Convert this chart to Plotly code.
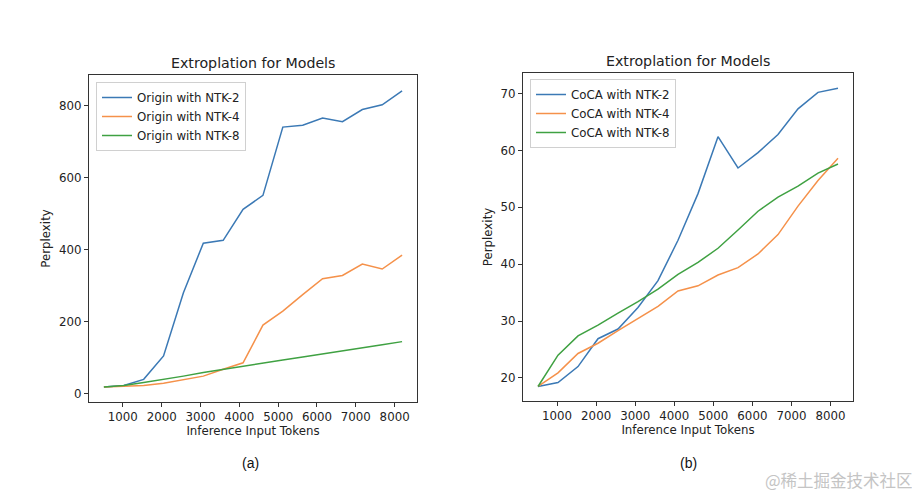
import plotly.graph_objects as go

tokens = [512, 1024, 1536, 2048, 2560, 3072, 3584, 4096, 4608, 5120, 5632, 6144, 6656, 7168, 7680, 8192]

origin_ntk2 = [17.5, 22, 39, 104, 280, 418, 426, 512, 551, 741, 746, 766, 756, 790, 803, 842]
origin_ntk4 = [17.5, 20, 22, 28, 37, 48, 67, 85, 190, 229, 275, 319, 328, 360, 346, 385]
origin_ntk8 = [17.5, 22, 30, 38, 48, 58, 67, 77, 85, 93, 101, 109, 117, 126, 135, 144]

coca_ntk2 = [18.5, 19.2, 22.0, 26.9, 28.6, 32.4, 37.1, 44.2, 52.4, 62.4, 56.9, 59.6, 62.8, 67.3, 70.2, 70.9]
coca_ntk4 = [18.5, 20.9, 24.3, 26.1, 28.3, 30.5, 32.6, 35.3, 36.2, 38.1, 39.4, 41.8, 45.2, 50.2, 54.7, 58.6]
coca_ntk8 = [18.5, 24.0, 27.4, 29.3, 31.4, 33.4, 35.6, 38.2, 40.3, 42.8, 46.0, 49.3, 51.8, 53.7, 56.0, 57.6]

left_names = ["Origin with NTK-2", "Origin with NTK-4", "Origin with NTK-8"]
right_names = ["CoCA with NTK-2", "CoCA with NTK-4", "CoCA with NTK-8"]
colors = ["#3b79b5", "#f5914a", "#3fa142"]

title_text = "Extroplation for Models"
x_title = "Inference Input Tokens"
y_title = "Perplexity"
x_ticks = [1000, 2000, 3000, 4000, 5000, 6000, 7000, 8000]
left_y_ticks = [0, 200, 400, 600, 800]
right_y_ticks = [20, 30, 40, 50, 60, 70]

FONT = "DejaVu Sans"
OFF = 8  # page body margin
W, H = 920 - OFF, 500 - OFF


def fx(px):
    return (px - OFF) / W


def fy(py):
    return 1 - (py - OFF) / H


fig = go.Figure()

for name, vals, c in zip(left_names, [origin_ntk2, origin_ntk4, origin_ntk8], colors):
    fig.add_trace(go.Scatter(x=tokens, y=vals, mode="lines", name=name,
                             line=dict(color=c, width=1.5), xaxis="x", yaxis="y", legend="legend"))
for name, vals, c in zip(right_names, [coca_ntk2, coca_ntk4, coca_ntk8], colors):
    fig.add_trace(go.Scatter(x=tokens, y=vals, mode="lines", name=name,
                             line=dict(color=c, width=1.5), xaxis="x2", yaxis="y2", legend="legend2"))

TS = 11.8
ax_common = dict(showline=True, linecolor="#333333", linewidth=1, mirror=True,
                 ticks="outside", ticklen=4, tickcolor="#333333", showgrid=False, zeroline=False,
                 tickfont=dict(family=FONT, size=TS, color="#222222"))

fig.update_layout(
    width=W, height=H,
    paper_bgcolor="white", plot_bgcolor="white",
    margin=dict(l=0, r=0, t=0, b=0),
    font=dict(family=FONT, color="#222222"),
    xaxis=dict(domain=[fx(89), fx(417)], range=[128, 8576], tickvals=x_ticks,
               title=dict(text=x_title, font=dict(size=TS), standoff=3), anchor="y", **ax_common),
    yaxis=dict(domain=[fy(402), fy(75)], range=[-24, 886], tickvals=left_y_ticks,
               title=dict(text=y_title, font=dict(size=TS), standoff=5), anchor="x", **ax_common),
    xaxis2=dict(domain=[fx(523), fx(853)], range=[128, 8576], tickvals=x_ticks,
                title=dict(text=x_title, font=dict(size=TS), standoff=3), anchor="y2", **ax_common),
    yaxis2=dict(domain=[fy(401), fy(73)], range=[15.95, 73.6], tickvals=right_y_ticks,
                title=dict(text=y_title, font=dict(size=TS), standoff=5), anchor="x2", **ax_common),
    legend=dict(x=fx(96), y=fy(82), xanchor="left", yanchor="top", bgcolor="white",
                bordercolor="#d0d0d0", borderwidth=1, font=dict(family=FONT, size=TS),
                tracegroupgap=0),
    legend2=dict(x=fx(530), y=fy(79), xanchor="left", yanchor="top", bgcolor="white",
                 bordercolor="#d0d0d0", borderwidth=1, font=dict(family=FONT, size=TS),
                 tracegroupgap=0),
    showlegend=True,
)

annotations = [
    dict(text=title_text, x=fx(253), y=fy(63), xref="paper", yref="paper",
         xanchor="center", yanchor="middle", showarrow=False,
         font=dict(family=FONT, size=14.2, color="#222222")),
    dict(text=title_text, x=fx(688), y=fy(61), xref="paper", yref="paper",
         xanchor="center", yanchor="middle", showarrow=False,
         font=dict(family=FONT, size=14.2, color="#222222")),
    dict(text="(a)", x=fx(250), y=fy(463), xref="paper", yref="paper",
         xanchor="center", yanchor="middle", showarrow=False,
         font=dict(family="Liberation Sans", size=14, color="#111111")),
    dict(text="(b)", x=fx(688), y=fy(463), xref="paper", yref="paper",
         xanchor="center", yanchor="middle", showarrow=False,
         font=dict(family="Liberation Sans", size=14, color="#111111")),
    dict(text="@稀土掘金技术社区", x=fx(915), y=fy(480), xref="paper", yref="paper",
         xanchor="right", yanchor="middle", showarrow=False,
         font=dict(family="Noto Sans CJK SC", size=16.5, color="#c4c4c4")),
]
fig.update_layout(annotations=annotations)

fig.write_html("out.html")
